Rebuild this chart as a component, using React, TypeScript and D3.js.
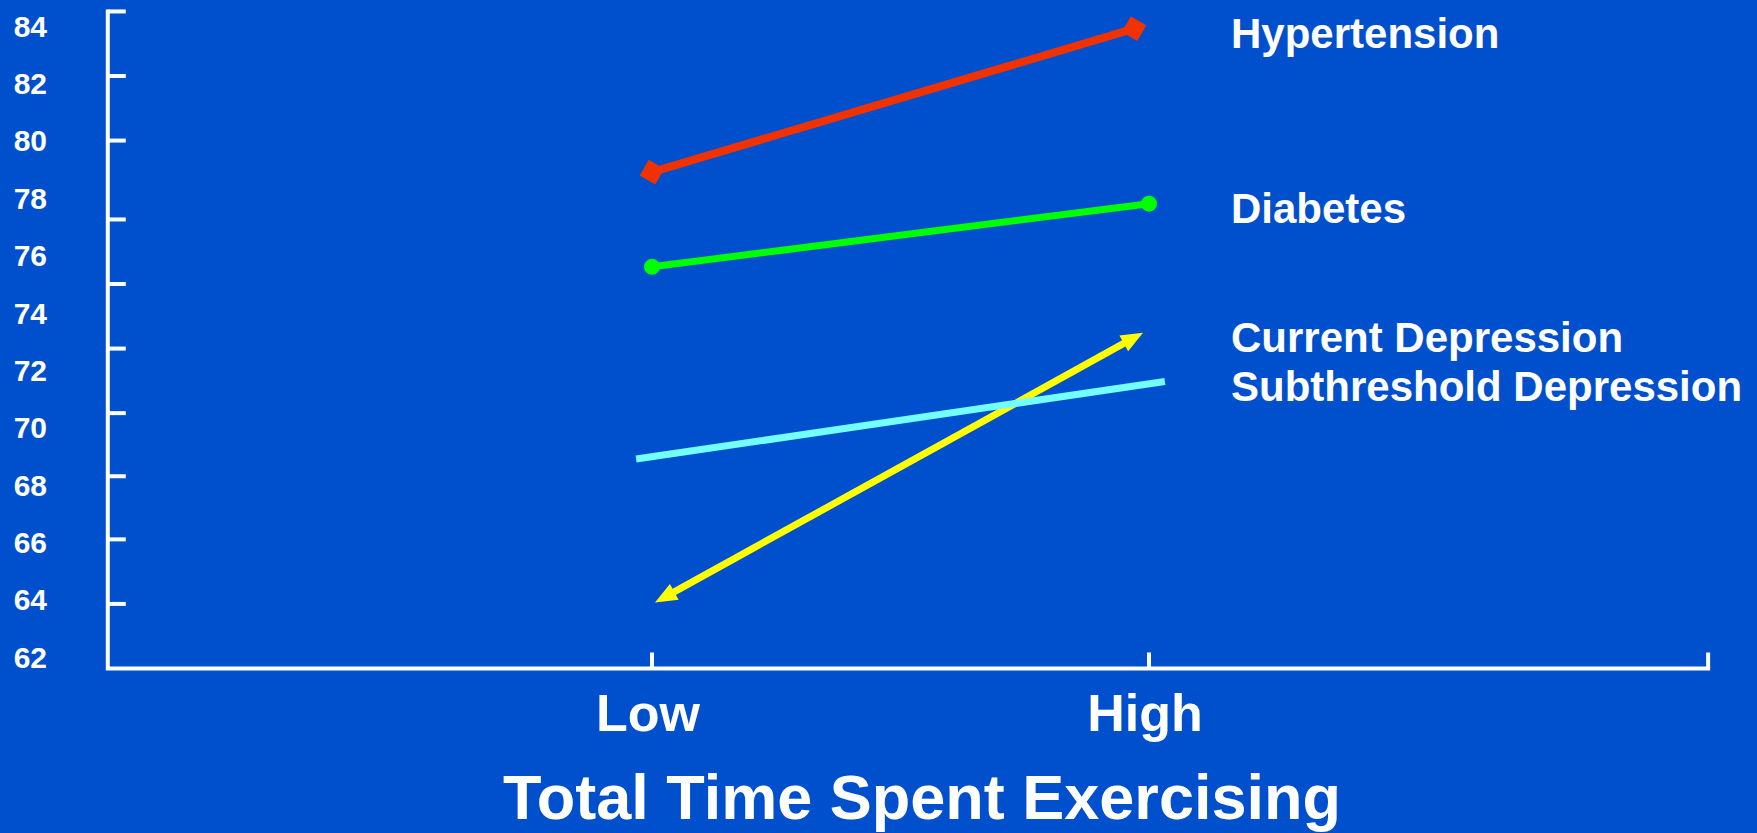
import React from "react";
import * as d3 from "d3";

const W = 1757;
const H = 833;

// Exercise level categories and their positions on the horizontal scale
const levels = ["Low", "High"];
const levelPos = [0, 1];

// Y tick labels and the tick marks drawn on the axis line
const yTickLabels = [84, 82, 80, 78, 76, 74, 72, 70, 68, 66, 64, 62];
const yAxisMarks = [84.5, 82.25, 80, 77.25, 75, 72.75, 70.5, 68.3, 66.1, 63.85];
const yAxisBottom = 61.6;
const xAxisExtent = [-1.095, 2.125];

// Series: x positions (0 = Low, 1 = High) and values
const hypertensionX = [0, 0.97];
const hypertension = [78.9, 83.9];
const diabetesX = [0, 1];
const diabetes = [75.6, 77.8];
const currentDepressionX = [0.006, 0.988];
const currentDepression = [63.9, 73.3];
const subthresholdX = [-0.032, 1.032];
const subthreshold = [68.9, 71.6];

const seriesNames = ["Hypertension", "Diabetes", "Current Depression", "Subthreshold Depression"];

const BG = "#0050CE";
const FONT = "'Liberation Sans', Arial, Helvetica, sans-serif";

export default function App() {
  const x = d3.scaleLinear().domain([0, 1]).range([652, 1149]);
  const y = d3.scaleLinear().domain([62, 84]).range([657, 25.8]);

  const axisX = x(xAxisExtent[0]);
  const axisRight = x(xAxisExtent[1]);
  const axisTop = y(yAxisMarks[0]);
  const axisBottom = y(yAxisBottom);

  const line = d3
    .line<[number, number]>()
    .x((d) => x(d[0]))
    .y((d) => y(d[1]));

  const pts = (xs: number[], vs: number[]) => xs.map((v, i) => [v, vs[i]] as [number, number]);

  const series = [
    { name: seriesNames[0], data: pts(hypertensionX, hypertension), color: "#F03200", width: 8, marker: "diamond" },
    { name: seriesNames[1], data: pts(diabetesX, diabetes), color: "#00FF00", width: 7, marker: "circle" },
    { name: seriesNames[2], data: pts(currentDepressionX, currentDepression), color: "#FFFF00", width: 7, marker: "arrow" },
    { name: seriesNames[3], data: pts(subthresholdX, subthreshold), color: "#73FFFF", width: 7, marker: "none" },
  ];

  const renderSeries = (s: (typeof series)[number]) => {
    const [a, b] = s.data;
    const p0: [number, number] = [x(a[0]), y(a[1])];
    const p1: [number, number] = [x(b[0]), y(b[1])];
    if (s.marker === "arrow") {
      const dx = p1[0] - p0[0];
      const dy = p1[1] - p0[1];
      const len = Math.hypot(dx, dy);
      const ux = dx / len;
      const uy = dy / len;
      const L = 22;
      const hw = 9;
      const head = (tip: [number, number], dir: number) => {
        const bx = tip[0] - dir * ux * L;
        const by = tip[1] - dir * uy * L;
        return `M${tip[0]},${tip[1]}L${bx - uy * hw},${by + ux * hw}L${bx + uy * hw},${by - ux * hw}Z`;
      };
      const s0: [number, number] = [p0[0] + ux * L * 0.6, p0[1] + uy * L * 0.6];
      const s1: [number, number] = [p1[0] - ux * L * 0.6, p1[1] - uy * L * 0.6];
      return (
        <g key={s.name}>
          <line x1={s0[0]} y1={s0[1]} x2={s1[0]} y2={s1[1]} stroke={s.color} strokeWidth={s.width} />
          <path d={head(p0, -1)} fill={s.color} />
          <path d={head(p1, 1)} fill={s.color} />
        </g>
      );
    }
    return (
      <g key={s.name}>
        <path d={line(s.data) || ""} stroke={s.color} strokeWidth={s.width} fill="none" />
        {s.marker === "circle" &&
          [p0, p1].map((p, i) => <circle key={i} cx={p[0]} cy={p[1]} r={8} fill={s.color} />)}
        {s.marker === "diamond" &&
          [p0, p1].map((p, i) => (
            <rect
              key={i}
              x={-9}
              y={-9}
              width={18}
              height={18}
              fill={s.color}
              transform={`translate(${p[0]},${p[1]}) rotate(30)`}
            />
          ))}
      </g>
    );
  };

  return (
    <svg
      width={W}
      height={H}
      style={{ position: "absolute", left: 0, top: 0, display: "block" }}
      fontFamily={FONT}
      fontWeight="bold"
    >
      <rect x={0} y={0} width={W} height={H} fill={BG} />

      {/* axes */}
      <path
        d={`M${axisX},${axisTop}V${axisBottom}H${axisRight}`}
        stroke="#fff"
        strokeWidth={4}
        fill="none"
        strokeLinejoin="miter"
        strokeLinecap="square"
      />
      {yAxisMarks.map((v) => (
        <line key={v} x1={axisX} x2={axisX + 18} y1={y(v)} y2={y(v)} stroke="#fff" strokeWidth={4} />
      ))}
      {[...levelPos, xAxisExtent[1]].map((v) => (
        <line key={v} x1={x(v)} x2={x(v)} y1={axisBottom} y2={axisBottom - 16} stroke="#fff" strokeWidth={4} />
      ))}

      {/* y tick labels */}
      {yTickLabels.map((v) => (
        <text key={v} x={47} y={y(v)} dy="0.36em" textAnchor="end" fontSize={30} fill="#fff">
          {v}
        </text>
      ))}

      {/* category labels */}
      {levels.map((l, i) => (
        <text key={l} x={x(levelPos[i]) - 4} y={731} textAnchor="middle" fontSize={52} fill="#fff">
          {l}
        </text>
      ))}

      <text x={922} y={819} textAnchor="middle" fontSize={63} fill="#fff">
        Total Time Spent Exercising
      </text>

      {/* series */}
      {series.map(renderSeries)}

      {/* series labels placed beside the High end of each line */}
      {series.map((s) => (
        <text key={s.name} x={1231} y={y(s.data[1][1]) + 19} fontSize={42} fill="#fff">
          {s.name}
        </text>
      ))}
    </svg>
  );
}
